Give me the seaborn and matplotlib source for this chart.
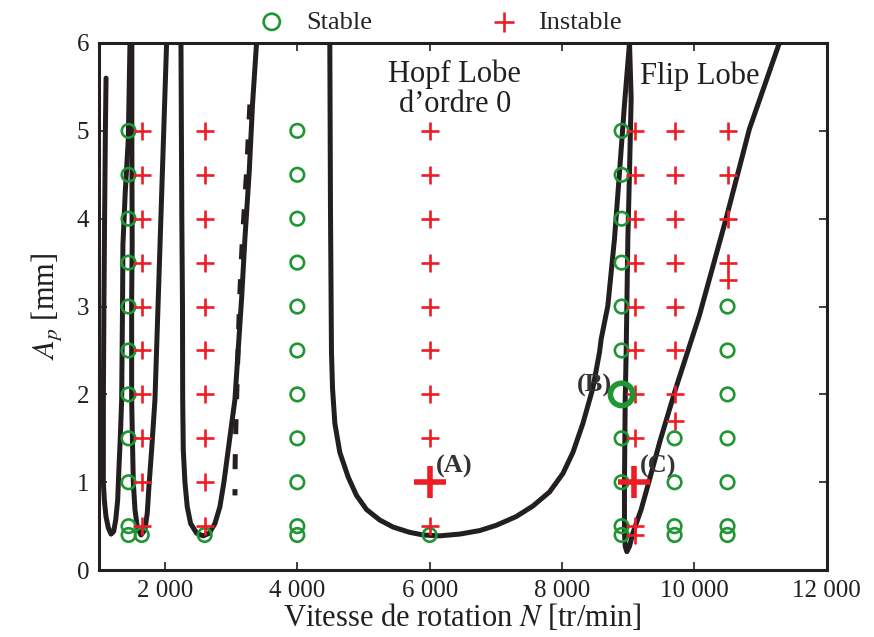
import pandas as pd
import matplotlib.pyplot as plt
import seaborn as sns

# --- lobes de stabilité (N [tr/min], Ap [mm]) ---
lobe1_n = [1110, 1100, 1088, 1078, 1070, 1069, 1084, 1109, 1145, 1185, 1225, 1256, 1286, 1306,
           1325, 1346, 1360, 1365, 1400, 1446, 1472]
lobe1_ap = [5.6, 5.0, 4.0, 3.0, 2.0, 1.0, 0.8, 0.61, 0.48, 0.41, 0.44, 0.57, 0.8, 1.18,
            1.5, 1.94, 3.09, 3.7, 4.3, 4.9, 6.0]

lobe2_n = [1500, 1500, 1505, 1497, 1497, 1512, 1522, 1547, 1582, 1638, 1698, 1733, 1758, 1799,
           1849, 1899, 1960, 2025]
lobe2_ap = [6.0, 4.9, 3.7, 3.09, 1.94, 1.37, 1.0, 0.69, 0.49, 0.40, 0.46, 0.65, 0.95, 1.37,
            1.94, 3.09, 4.5, 6.0]

lobe3_n = [2242, 2255, 2265, 2268, 2277, 2302, 2337, 2388, 2478, 2578, 2669, 2755, 2830, 2891,
           2956, 3057, 3107, 3158, 3208, 3273, 3323, 3384]
lobe3_ap = [6.0, 4.0, 3.0, 1.94, 1.37, 1.0, 0.72, 0.53, 0.42, 0.39, 0.42, 0.53, 0.72, 1.0,
            1.37, 1.94, 2.51, 3.09, 3.77, 4.53, 5.3, 6.0]

# tracé secondaire interrompu le long de la branche droite du 3e lobe
lobe3b_n = [3283, 3233, 3170, 3140, 3120, 3100, 3075, 3060, 3058]
lobe3b_ap = [5.3, 4.53, 3.77, 3.3, 2.9, 2.4, 1.75, 1.2, 0.85]

hopf_n = [4491, 4501, 4516, 4532, 4567, 4642, 4768, 4894, 5045, 5246, 5447, 5698, 5899, 6151,
          6453, 6755, 7006, 7308, 7560, 7811, 8013, 8164, 8315, 8465, 8566, 8591, 8692, 8792,
          8868, 8943, 9019]
hopf_ap = [6.0, 4.11, 2.48, 2.07, 1.67, 1.34, 1.06, 0.85, 0.69, 0.57, 0.49, 0.43, 0.40, 0.39,
           0.41, 0.45, 0.51, 0.61, 0.73, 0.89, 1.10, 1.34, 1.67, 2.07, 2.48, 2.63, 3.01, 3.77,
           4.53, 5.3, 6.0]

flip_n = [9019, 9044, 9019, 8994, 8979, 8969, 8954, 8943, 8943, 8954, 8979, 9019, 9069, 9195,
          9321, 9480, 9723, 10075, 10478, 10830, 11283]
flip_ap = [6.0, 5.37, 4.53, 3.77, 3.01, 2.5, 1.94, 1.0, 0.42, 0.27, 0.21, 0.27, 0.42, 0.69,
           1.03, 1.47, 2.08, 2.9, 4.0, 5.02, 6.0]

# --- essais ---
stable_n = ([1450] * 11 + [1650, 2600] + [4000] * 11 + [6000]
            + [8900] * 10 + [9700] * 4 + [10500] * 7)
stable_ap = ([5, 4.5, 4, 3.5, 3, 2.5, 2, 1.5, 1, 0.5, 0.4] + [0.4, 0.4]
             + [5, 4.5, 4, 3.5, 3, 2.5, 2, 1.5, 1, 0.5, 0.4] + [0.4]
             + [5, 4.5, 4, 3.5, 3, 2.5, 1.5, 1, 0.5, 0.4]
             + [1.5, 1, 0.5, 0.4]
             + [3, 2.5, 2, 1.5, 1, 0.5, 0.4])

instable_n = ([1650] * 10 + [2600] * 10 + [6000] * 9 + [9100] * 10
              + [9700] * 8 + [10500] * 5)
instable_ap = ([5, 4.5, 4, 3.5, 3, 2.5, 2, 1.5, 1, 0.5]
               + [5, 4.5, 4, 3.5, 3, 2.5, 2, 1.5, 1, 0.5]
               + [5, 4.5, 4, 3.5, 3, 2.5, 2, 1.5, 0.5]
               + [5, 4.5, 4, 3.5, 3, 2.5, 2, 1.5, 0.5, 0.4]
               + [5, 4.5, 4, 3.5, 3, 2.5, 2, 1.7]
               + [5, 4.5, 4, 3.5, 3.3])

# points particuliers (A), (B), (C)
pt_labels = ['(A)', '(B)', '(C)']
pt_n = [6000, 8900, 9080]
pt_ap = [1.0, 2.0, 1.0]
pt_stable = [False, True, False]

x_ticks = [2000, 4000, 6000, 8000, 10000, 12000]
x_tick_labels = ['2 000', '4 000', '6 000', '8 000', '10 000', '12 000']
y_ticks = [0, 1, 2, 3, 4, 5, 6]

GREEN = '#1e9632'
RED = '#ee1c25'
INK = '#231f20'

sns.set_style('ticks')
plt.rcParams['font.family'] = ['Liberation Serif', 'DejaVu Serif']
plt.rcParams['mathtext.fontset'] = 'stix'
plt.rcParams['axes.linewidth'] = 2.2

fig = plt.figure(figsize=(8.74, 6.37), dpi=100)
ax = fig.add_axes([0.113, 0.105, 0.833, 0.8275])

lobes = [(lobe1_n, lobe1_ap), (lobe2_n, lobe2_ap), (lobe3_n, lobe3_ap),
         (hopf_n, hopf_ap), (flip_n, flip_ap)]
for n, ap in lobes:
    sns.lineplot(x=n, y=ap, sort=False, estimator=None, color=INK, lw=3.6, ax=ax)
sns.lineplot(x=lobe3b_n, y=lobe3b_ap, sort=False, estimator=None, color=INK,
             lw=3.6, ax=ax, linestyle=(0, (3, 4)))

essais_s = pd.DataFrame({'N': stable_n, 'Ap': stable_ap})
essais_i = pd.DataFrame({'N': instable_n, 'Ap': instable_ap})
sns.scatterplot(data=essais_s, x='N', y='Ap', marker='o', s=95, facecolor='none',
                edgecolor=GREEN, linewidth=1.9, label='Stable', ax=ax, zorder=3)
sns.scatterplot(data=essais_i, x='N', y='Ap', marker='+', s=150, color=RED,
                linewidth=1.9, label='Instable', ax=ax, zorder=3)

# gros marqueurs des essais détaillés
for lab, n, ap, st in zip(pt_labels, pt_n, pt_ap, pt_stable):
    if st:
        sns.scatterplot(x=[n], y=[ap], marker='o', s=260, facecolor='none',
                        edgecolor=GREEN, linewidth=4, ax=ax, zorder=4)
        ax.text(n - 150, ap + 0.1, lab, ha='right', va='center', fontsize=19,
                fontweight='bold', color='#333333')
    else:
        sns.scatterplot(x=[n], y=[ap], marker='+', s=520, color=RED,
                        linewidth=4, ax=ax, zorder=4)
        ax.text(n + 90, ap + 0.18, lab, ha='left', va='center', fontsize=19,
                fontweight='bold', color='#333333')

ax.text(6380, 5.47, 'Hopf Lobe\nd\u2019ordre 0', ha='center', va='center',
        fontsize=22, color=INK, linespacing=1.05)
ax.text(10080, 5.62, 'Flip Lobe', ha='center', va='center', fontsize=22, color=INK)

ax.set_xlim(1000, 12000)
ax.set_ylim(0, 6)
ax.set_xticks(x_ticks)
ax.set_xticklabels(x_tick_labels)
ax.set_yticks(y_ticks)
ax.tick_params(direction='in', length=6, width=1.2, top=True, right=True,
               labelsize=18, colors=INK, pad=7)
ax.set_xlabel('Vitesse de rotation $N$ [tr/min]', fontsize=22, color=INK, labelpad=0)
ax.set_ylabel('$A_p$ [mm]', fontsize=22, color=INK, labelpad=8)
for sp in ax.spines.values():
    sp.set_color(INK)

ax.legend(loc='lower center', bbox_to_anchor=(0.46, 0.995), ncol=2, frameon=False,
          fontsize=19, columnspacing=4.0, handletextpad=0.3, borderaxespad=0.05,
          markerscale=1.2)

fig.savefig('out.png', dpi=100)
